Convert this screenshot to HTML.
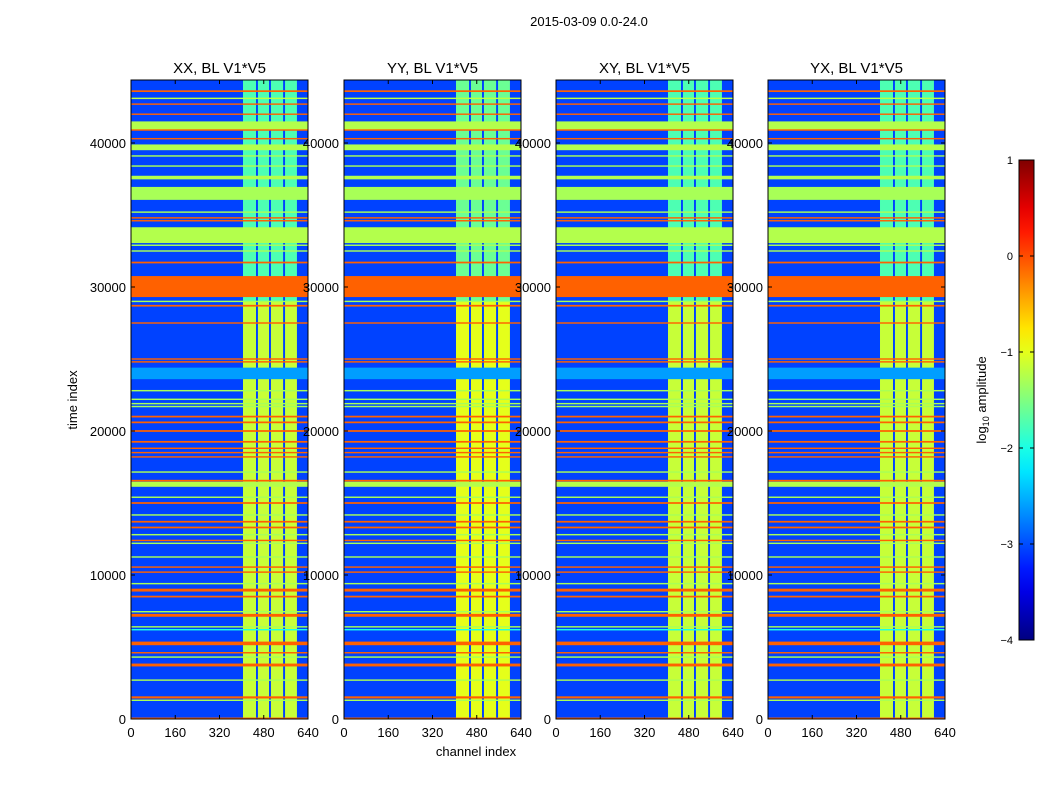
<!DOCTYPE html>
<html><head><meta charset="utf-8"><style>
body{margin:0;background:#fff;font-family:"Liberation Sans",sans-serif}
svg text{font-family:"Liberation Sans",sans-serif}
</style></head><body>
<svg id="fig" width="1050" height="800" viewBox="0 0 1050 800">
<rect width="1050" height="800" fill="#fff"/>
<text x="589" y="26" font-size="13" text-anchor="middle">2015-03-09 0.0-24.0</text>
</svg>
<script>
// ---- data ----
const panelTitles = ["XX, BL V1*V5","YY, BL V1*V5","XY, BL V1*V5","YX, BL V1*V5"];
const xTicks = [0,160,320,480,640];
const yTicks = [0,10000,20000,30000,40000];
const cbTicks = [1,0,-1,-2,-3,-4];
const backgroundValue = -3.05;
const colStart = [405,459,506,557];
const colEnd   = [452,499,550,600];
const upperVals = [-1.75,-1.6,-1.75,-1.75];
const lowerVals = [-1.15,-1.0,-1.15,-1.15];
const splitTime = 29000;
// horizontal stripes: time center, thickness (time units), log10 amplitude
const rowTime = [43600,43100,42700,42000,41200,40900,40300,39700,39100,38400,37600,36500,35200,34800,34600,33600,32900,32500,31700,30030,29000,28700,27500,25000,24800,24000,22800,22200,21900,21700,21000,20600,20000,19250,18800,18500,18200,17150,16550,16300,15400,15000,14170,13700,13300,12800,12400,12200,11250,10550,10200,9400,8950,8500,7450,7200,6400,6200,5250,4600,4300,3750,2700,1500,1300,50];
const rowThick = [120,100,100,100,600,100,100,400,100,100,250,900,100,100,100,1100,100,100,120,1460,100,120,100,100,100,800,100,100,100,100,120,120,120,120,100,100,100,100,120,350,100,120,100,120,120,100,100,100,100,100,100,100,200,120,100,200,100,100,250,100,100,200,100,150,100,100];
const rowVal = [-0.1,-1.2,-0.1,-0.1,-1.25,-0.1,-0.1,-1.25,-1.3,-1.3,-1.25,-1.3,-1.3,-0.1,-0.1,-1.25,-1.3,-1.3,-0.1,-0.1,-1.3,-0.1,-0.1,-0.1,-0.1,-2.6,-1.3,-1.3,-1.3,-1.3,-0.1,-0.1,-0.1,-0.1,-0.1,-0.1,-0.1,-1.3,-0.1,-1.25,-1.3,-0.1,-1.3,-0.1,-0.1,-1.3,-0.1,-1.3,-1.3,-0.1,-0.1,-1.3,-0.1,-0.1,-1.3,-0.1,-1.3,-2.0,-0.1,-0.1,-1.3,-0.1,-1.3,-0.1,-1.3,-0.1];

(function(){
const panelLeft = [131,344,556,768];
const panelW = 177, plotTop = 80, plotBottom = 719, tMax = 44375, chMax = 640;
const svg = document.getElementById('fig');
const NS = "http://www.w3.org/2000/svg";
function jet(v){
  const n = Math.max(0,Math.min(1,(v+4)/5));
  const c = x=>Math.round(255*Math.max(0,Math.min(1,x)));
  return `rgb(${c(1.5-Math.abs(4*n-3))},${c(1.5-Math.abs(4*n-2))},${c(1.5-Math.abs(4*n-1))})`;
}
function yScale(t){return plotBottom-(t/tMax)*(plotBottom-plotTop);}
function mk(tag,attrs,parent){const e=document.createElementNS(NS,tag);for(const k in attrs)e.setAttribute(k,attrs[k]);(parent||svg).appendChild(e);return e;}

panelLeft.forEach((L,p)=>{
  const xScale = c => L + c/chMax*panelW;
  const g = mk('g',{});
  
  
  const bg = mk('rect',{x:L,y:plotTop,width:panelW,height:plotBottom-plotTop,fill:jet(backgroundValue)},g);
  
  
  colStart.forEach((cs,i)=>{
    const u = mk('rect',{x:xScale(cs),y:plotTop,width:xScale(colEnd[i])-xScale(cs),height:yScale(splitTime)-plotTop,fill:jet(upperVals[p])},g);
    
    
    const l = mk('rect',{x:xScale(cs),y:yScale(splitTime),width:xScale(colEnd[i])-xScale(cs),height:plotBottom-yScale(splitTime),fill:jet(lowerVals[p])},g);
    
    
  });
  rowTime.forEach((t,i)=>{
    const y1 = yScale(t+rowThick[i]/2), y2 = yScale(t-rowThick[i]/2);
    const r = mk('rect',{x:L,y:y1,width:panelW,height:Math.max(1,y2-y1),fill:jet(rowVal[i])},g);
    
    
  });
  const fr = mk('rect',{x:L,y:plotTop,width:panelW,height:plotBottom-plotTop,fill:'none',stroke:'#000','stroke-width':1},g);
  
  
  const tt = mk('text',{x:L+panelW/2,y:73,'font-size':15,'text-anchor':'middle'},g);
  tt.textContent = panelTitles[p];
  
  
  xTicks.forEach(v=>{
    const x = xScale(v);
    mk('line',{x1:x,x2:x,y1:plotBottom,y2:plotBottom-4,stroke:'#000'},g);
    mk('line',{x1:x,x2:x,y1:plotTop,y2:plotTop+4,stroke:'#000'},g);
    const tx = mk('text',{x:x,y:737,'font-size':13,'text-anchor':'middle'},g);
    tx.textContent = v;
    
    
  });
  yTicks.forEach(v=>{
    const y = yScale(v);
    mk('line',{x1:L,x2:L+4,y1:y,y2:y,stroke:'#000'},g);
    mk('line',{x1:L+panelW,x2:L+panelW-4,y1:y,y2:y,stroke:'#000'},g);
    const ty = mk('text',{x:L-5,y:y+5,'font-size':13,'text-anchor':'end'},g);
    ty.textContent = v;
    
    
  });
});
const yl = mk('text',{x:0,y:0,'font-size':13,'text-anchor':'middle',transform:'translate(77,400) rotate(-90)'});
yl.textContent='time index';


const xl = mk('text',{x:476,y:756,'font-size':13,'text-anchor':'middle'});
xl.textContent='channel index';



const cbTop=160, cbBot=640, cbX=1019, cbW=15;
const defs = mk('defs',{});
const grad = mk('linearGradient',{id:'jetg',x1:0,y1:1,x2:0,y2:0},defs);
for(let i=0;i<=20;i++){mk('stop',{offset:i/20,'stop-color':jet(-4+5*i/20)},grad);}
const cb = mk('rect',{x:cbX,y:cbTop,width:cbW,height:cbBot-cbTop,fill:'url(#jetg)',stroke:'#000'});


cbTicks.forEach(v=>{
  const y = cbBot-(v+4)/5*(cbBot-cbTop);
  mk('line',{x1:cbX,x2:cbX+4,y1:y,y2:y,stroke:'#000'});
  mk('line',{x1:cbX+cbW,x2:cbX+cbW-4,y1:y,y2:y,stroke:'#000'});
  const t = mk('text',{x:cbX-6,y:y+4,'font-size':11,'text-anchor':'end'});
  t.textContent = v<0 ? '\u2212'+(-v) : v;
  
  
});
const cl = mk('text',{x:0,y:0,'font-size':13,'text-anchor':'middle',transform:'translate(986,400) rotate(-90)'});
cl.innerHTML='log<tspan font-size="9" dy="3">10</tspan><tspan dy="-3"> amplitude</tspan>';


})();
</script>
</body></html>
